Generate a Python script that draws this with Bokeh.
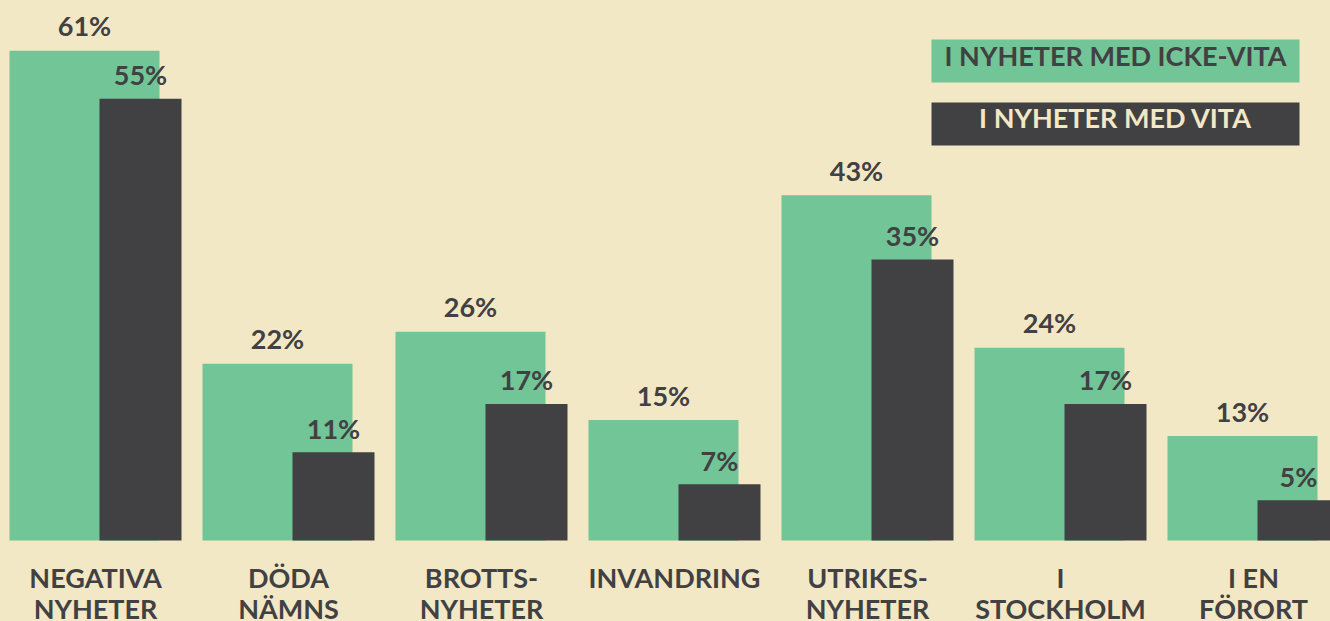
from bokeh.plotting import figure
from bokeh.models import ColumnDataSource, Range1d, GlobalInlineStyleSheet
from bokeh.core.properties import value
from bokeh.embed import file_html
from bokeh.resources import INLINE

# ---- data ----
categories = ["NEGATIVA\nNYHETER", "DÖDA\nNÄMNS", "BROTTS-\nNYHETER", "INVANDRING",
              "UTRIKES-\nNYHETER", "I\nSTOCKHOLM", "I EN\nFÖRORT"]
icke_vita = [61, 22, 26, 15, 43, 24, 13]
vita = [55, 11, 17, 7, 35, 17, 5]
series_names = ["I NYHETER MED ICKE-VITA", "I NYHETER MED VITA"]

# ---- style ----
BG = "#F3E8C5"
GREEN = "#71C596"
DARK = "#414042"
FONT = value("Lato")
FS = "27px"

W, H = 1330, 621
PX_GROUP = 193.0
PX_PCT = 8.03
x0 = -84 / PX_GROUP
y_end = 540 / PX_PCT


def fx(px):
    return x0 + px / PX_GROUP


def fy(py):
    return y_end - py / PX_PCT


idx = list(range(len(categories)))
line1 = [c.split("\n")[0] for c in categories]
line2 = [c.split("\n")[1] if "\n" in c else "" for c in categories]

src = ColumnDataSource(dict(
    xg=[i for i in idx],
    xd=[i + 56 / PX_GROUP for i in idx],
    xc=[i + 11 / PX_GROUP for i in idx],
    g=icke_vita, d=vita,
    gl=[f"{v}%" for v in icke_vita],
    dl=[f"{v}%" for v in vita],
    zero=[0] * len(idx),
    l1=line1, l2=line2,
))

p = figure(width=W, height=H, output_backend="svg", toolbar_location=None,
           x_range=Range1d(x0, x0 + W / PX_GROUP),
           y_range=Range1d(y_end - H / PX_PCT, y_end),
           x_axis_location=None, y_axis_location=None, min_border=0)
p.background_fill_color = BG
p.border_fill_color = BG
p.outline_line_color = None
p.xgrid.visible = False
p.ygrid.visible = False
p.stylesheets = [GlobalInlineStyleSheet(css=f"body {{ background: {BG}; }}")]

p.vbar(x="xg", top="g", bottom=0, width=150 / PX_GROUP, source=src,
       fill_color=GREEN, line_color=None)
p.vbar(x="xd", top="d", bottom=0, width=82 / PX_GROUP, source=src,
       fill_color=DARK, line_color=None)

p.text(x="xg", y="g", text="gl", source=src, y_offset=-25,
       text_align="center", text_baseline="alphabetic",
       text_font=FONT, text_font_style="bold", text_font_size=FS,
       text_color=DARK)
p.text(x="xd", y="d", text="dl", source=src, y_offset=-24,
       text_align="center", text_baseline="alphabetic",
       text_font=FONT, text_font_style="bold", text_font_size=FS,
       text_color=DARK)

p.text(x="xc", y="zero", text="l1", source=src, y_offset=37,
       text_align="center", text_baseline="alphabetic",
       text_font=FONT, text_font_style="bold", text_font_size=FS,
       text_color=DARK)
p.text(x="xc", y="zero", text="l2", source=src, y_offset=68,
       text_align="center", text_baseline="alphabetic",
       text_font=FONT, text_font_style="bold", text_font_size=FS,
       text_color=DARK)

# legend boxes
leg = ColumnDataSource(dict(
    left=[fx(931), fx(931)], right=[fx(1299), fx(1299)],
    top=[fy(39), fy(102)], bottom=[fy(82), fy(145)],
    cx=[fx(1115), fx(1115)], cy=[fy(55), fy(117)],
    fill=[GREEN, DARK], tc=[DARK, BG], name=series_names,
))
p.quad(left="left", right="right", top="top", bottom="bottom", source=leg,
       fill_color="fill", line_color=None)
p.text(x="cx", y="cy", text="name", source=leg, text_color="tc",
       text_align="center", text_baseline="middle",
       text_font=FONT, text_font_style="bold", text_font_size=FS)

open("out.html", "w").write(file_html(p, INLINE))
